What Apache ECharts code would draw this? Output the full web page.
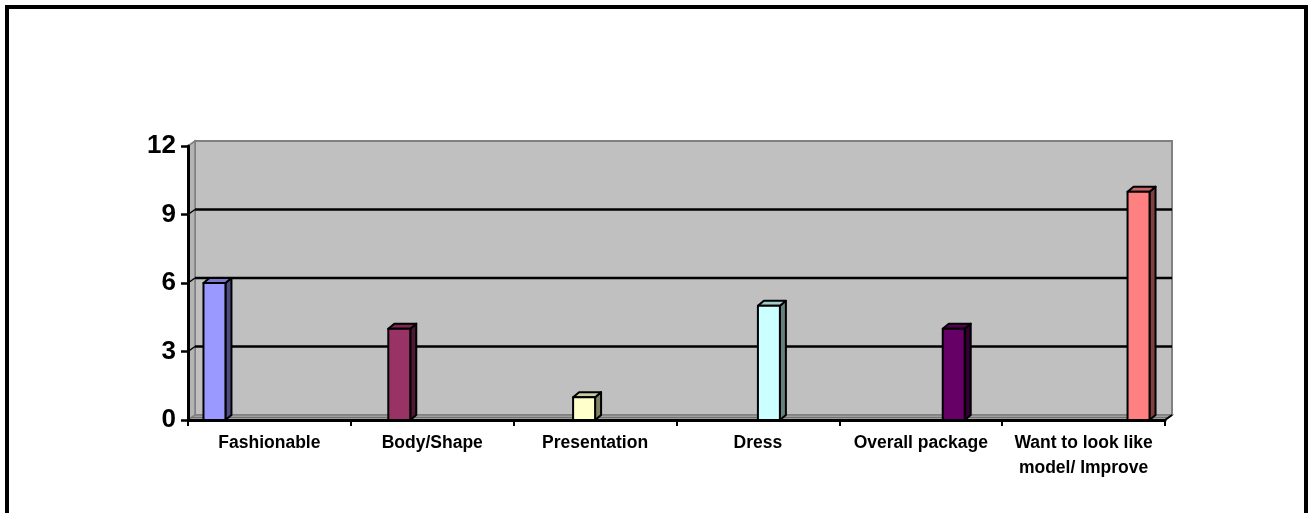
<!DOCTYPE html>
<html>
<head>
<meta charset="utf-8">
<title>Reasons</title>
<script src="https://cdn.jsdelivr.net/npm/echarts@6/dist/echarts.min.js"></script>
<style>
  html, body { margin: 0; padding: 0; background: #ffffff; }
  #chart { width: 1312px; height: 513px; }
</style>
</head>
<body>
<div id="chart"></div>
<script>
// Categories and their counts
const categories = ['Fashionable', 'Body/Shape', 'Presentation', 'Dress', 'Overall package', 'Want to look like\nmodel/ Improve'];
const counts = [6, 4, 1, 5, 4, 10];
const yTicks = [0, 3, 6, 9, 12];

// Fill colours of the column faces (front, top, side)
const frontColors = ['#9999FF', '#993366', '#FFFFCC', '#CCFFFF', '#660066', '#FF8080'];
const topColors   = ['#7A7ACC', '#7A2952', '#CCCCA3', '#A3CCCC', '#520052', '#CC6666'];
const sideColors  = ['#4D4D80', '#4D1A33', '#808066', '#668080', '#330033', '#804040'];

const FONT = '"Liberation Sans", Arial, sans-serif';
const DEPTH_X = 7, DEPTH_Y = 5;   // wall depth
const BAR_DX = 6, BAR_DY = 5;     // column depth
const GROUP_FRACTION = 0.81;      // share of a category band taken by the column group
const nSeries = categories.length;

// Back wall, side wall, floor and gridlines of the 3D plot box
function renderWalls(params, api) {
  const cs = params.coordSys;
  const x0 = cs.x, x1 = cs.x + cs.width, yT = cs.y, y0 = cs.y + cs.height;
  const children = [];
  // back wall
  children.push({ type: 'polygon', shape: { points: [[x0 + DEPTH_X, yT - DEPTH_Y], [x1 + DEPTH_X, yT - DEPTH_Y], [x1 + DEPTH_X, y0 - DEPTH_Y], [x0 + DEPTH_X, y0 - DEPTH_Y]] },
    style: { fill: '#C0C0C0', stroke: '#808080', lineWidth: 2 } });
  // left wall
  children.push({ type: 'polygon', shape: { points: [[x0, yT], [x0 + DEPTH_X, yT - DEPTH_Y], [x0 + DEPTH_X, y0 - DEPTH_Y], [x0, y0]] },
    style: { fill: '#B4B4B4', stroke: '#808080', lineWidth: 1.5 } });
  // floor
  children.push({ type: 'polygon', shape: { points: [[x0, y0], [x0 + DEPTH_X, y0 - DEPTH_Y], [x1 + DEPTH_X, y0 - DEPTH_Y], [x1, y0]] },
    style: { fill: '#A0A0A0', stroke: '#808080', lineWidth: 1.5 } });
  children.push({ type: 'line', shape: { x1: x0 + 3, y1: y0 - 2.5, x2: x1 + 3, y2: y0 - 2.5 }, style: { stroke: '#707070', lineWidth: 1 } });
  // gridlines on the back wall with their diagonals on the side wall
  yTicks.forEach(function (v) {
    if (v === 0 || v === yTicks[yTicks.length - 1]) return;
    const y = api.coord([0, v])[1];
    children.push({ type: 'line', shape: { x1: x0 + DEPTH_X, y1: y - DEPTH_Y, x2: x1 + DEPTH_X, y2: y - DEPTH_Y }, style: { stroke: '#000000', lineWidth: 2.5 } });
    children.push({ type: 'line', shape: { x1: x0, y1: y, x2: x0 + DEPTH_X, y2: y - DEPTH_Y }, style: { stroke: '#000000', lineWidth: 1.5 } });
  });
  const yTop = api.coord([0, yTicks[yTicks.length - 1]])[1];
  children.push({ type: 'line', shape: { x1: x0, y1: yTop, x2: x0 + DEPTH_X, y2: yTop - DEPTH_Y }, style: { stroke: '#808080', lineWidth: 1.5 } });
  children.push({ type: 'line', shape: { x1: x1, y1: y0, x2: x1 + DEPTH_X, y2: y0 - DEPTH_Y }, style: { stroke: '#000000', lineWidth: 2 } });
  return { type: 'group', children: children };
}

// A 3D column for series s: front face, top face and side face
function makeColumnRenderer(s) {
  return function (params, api) {
    const val = api.value(1);
    if (!val) return null;
    const cat = api.value(0);
    const base = api.coord([cat, 0]);
    const band = api.size([1, 0])[0];
    const bw = band * GROUP_FRACTION / nSeries;
    const x = base[0] - band * GROUP_FRACTION / 2 + s * bw;
    const top = api.coord([cat, val])[1];
    const y0 = base[1];
    const line = { stroke: '#000000', lineWidth: 2, lineJoin: 'round' };
    return {
      type: 'group',
      children: [
        { type: 'polygon', shape: { points: [[x + bw, top], [x + bw + BAR_DX, top - BAR_DY], [x + bw + BAR_DX, y0 - BAR_DY], [x + bw, y0]] },
          style: Object.assign({ fill: sideColors[s] }, line) },
        { type: 'polygon', shape: { points: [[x, top], [x + BAR_DX, top - BAR_DY], [x + bw + BAR_DX, top - BAR_DY], [x + bw, top]] },
          style: Object.assign({ fill: topColors[s] }, line) },
        { type: 'rect', shape: { x: x, y: top, width: bw, height: y0 - top },
          style: Object.assign({ fill: frontColors[s] }, line) }
      ]
    };
  };
}

const columnSeries = categories.map(function (c, s) {
  return {
    type: 'custom',
    name: c,
    renderItem: makeColumnRenderer(s),
    data: categories.map(function (cc, j) { return [j, j === s ? counts[s] : 0]; }),
    z: 3,
    silent: true
  };
});

const chart = echarts.init(document.getElementById('chart'), null, { renderer: 'canvas' });
chart.setOption({
  backgroundColor: '#ffffff',
  animation: false,
  graphic: [{
    type: 'rect',
    shape: { x: 7, y: 7, width: 1299, height: 540 },
    style: { fill: 'none', stroke: '#000000', lineWidth: 4 },
    z: 10
  }],
  grid: { left: 188, right: 147, top: 146, bottom: 93, containLabel: false },
  xAxis: {
    type: 'category',
    data: categories,
    boundaryGap: true,
    axisLine: { show: true, lineStyle: { color: '#000000', width: 3 } },
    axisTick: { show: true, alignWithLabel: false, length: 6, lineStyle: { color: '#000000', width: 2 } },
    axisLabel: { interval: 0, margin: 11, color: '#000000', fontFamily: FONT, fontWeight: 'bold', fontSize: 17.5, lineHeight: 25, align: 'center' },
    splitLine: { show: false },
    z: 5
  },
  yAxis: {
    type: 'value',
    min: 0, max: 12, interval: 3,
    axisLine: { show: true, lineStyle: { color: '#000000', width: 3 } },
    axisTick: { show: true, length: 7, lineStyle: { color: '#000000', width: 2.5 } },
    axisLabel: { margin: 12, color: '#000000', fontFamily: FONT, fontWeight: 'bold', fontSize: 26 },
    splitLine: { show: false },
    z: 5
  },
  series: [{
    type: 'custom',
    name: 'walls',
    renderItem: renderWalls,
    data: [[0, 0]],
    z: 1,
    silent: true
  }].concat(columnSeries)
});
</script>
</body>
</html>
